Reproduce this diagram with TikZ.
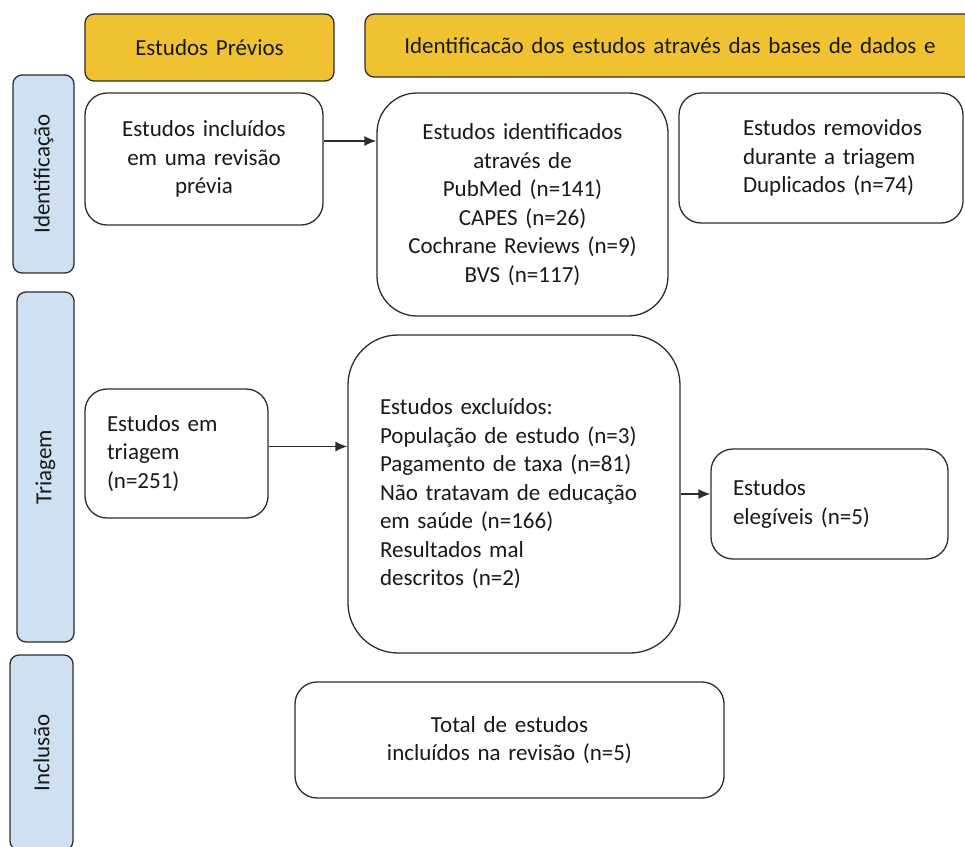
\documentclass[tikz,border=0pt]{standalone}
\usepackage{fontspec}
\setmainfont[WordSpace=1.5]{Carlito}
\usepackage{xcolor}
\usetikzlibrary{arrows.meta}
\definecolor{cabeca}{RGB}{240,194,50}
\definecolor{fase}{RGB}{207,224,242}
\definecolor{linha}{RGB}{45,45,45}
\hyphenpenalty=10000
\exhyphenpenalty=10000

\begin{document}
\begin{tikzpicture}[x=1pt, y=-1pt, font=\fontsize{23}{28.5}\selectfont, text=black!90]
\tikzset{
  caixa/.style={draw=linha, line width=1.3pt, fill=white, rounded corners=22pt, inner ysep=0pt},
  recuo/.style={align=left, inner xsep=10pt, execute at begin node={\leftskip=#1}},
  topo/.style={draw=linha, line width=1.3pt, fill=cabeca, rounded corners=9pt, inner sep=0pt},
  etapa/.style={draw=linha, line width=1.3pt, fill=fase, rounded corners=9pt, inner sep=0pt, rotate=90},
  seta/.style={draw=linha, line width=1.3pt, -{Latex[length=12pt,width=10pt]}}
}
\useasboundingbox (0,0) rectangle (965,846);
% cabecalhos
\node[topo, minimum width=249pt, minimum height=67pt] (previos) at (209.5,47.5) {Estudos Prévios};
\node[topo, minimum width=610pt, minimum height=63pt] (bases) at (670,45.5) {Identificacão dos estudos através das bases de dados e};
% fases
\node[etapa, minimum width=198pt, minimum height=61pt] (fid) at (43.5,174) {Identificação};
\node[etapa, minimum width=350pt, minimum height=57pt] (ftri) at (45.5,467) {Triagem};
\node[etapa, minimum width=195pt, minimum height=63pt] (finc) at (41.5,752.5) {Inclusão};
% identificacao
\node[caixa, minimum width=238pt, minimum height=132pt, text width=220pt, align=center] (previa) at (204,159) {Estudos incluídos\\em uma revisão\\prévia};
\node[caixa, rounded corners=40pt, minimum width=291pt, minimum height=223pt, text width=270pt, align=center] (ident) at (522.5,204.5) {Estudos identificados\\através de\\PubMed (n=141)\\CAPES (n=26)\\Cochrane Reviews (n=9)\\BVS (n=117)};
\node[caixa, recuo=54pt, minimum width=284pt, minimum height=130pt, text width=264pt] (removidos) at (821,158) {Estudos removidos\\durante a triagem\\Duplicados (n=74)};
% triagem
\node[caixa, recuo=12pt, minimum width=183pt, minimum height=129pt, text width=163pt] (triagem) at (176.5,453.5) {Estudos em\\triagem\\(n=251)};
\node[caixa, recuo=22pt, rounded corners=50pt, minimum width=332pt, minimum height=318pt, text width=312pt] (excl) at (514,494) {Estudos excluídos:\\População de estudo (n=3)\\Pagamento de taxa (n=81)\\Não tratavam de educação\\em saúde (n=166)\\Resultados mal\\descritos (n=2)};
\node[caixa, recuo=12pt, minimum width=237pt, minimum height=110pt, text width=217pt] (eleg) at (829.5,504) {Estudos\\elegíveis (n=5)};
% inclusao
\node[caixa, minimum width=429pt, minimum height=116pt, text width=400pt, align=center] (total) at (509.5,740) {Total de estudos\\incluídos na revisão (n=5)};
% setas
\draw[seta] ([yshift=18pt]previa.east) -- ([yshift=18pt]previa.east -| ident.west);
\draw[seta] ([yshift=7pt]triagem.east) -- ([yshift=7pt]triagem.east -| excl.west);
\draw[seta] (excl.east) -- (excl.east -| eleg.west);
\end{tikzpicture}
\end{document}
